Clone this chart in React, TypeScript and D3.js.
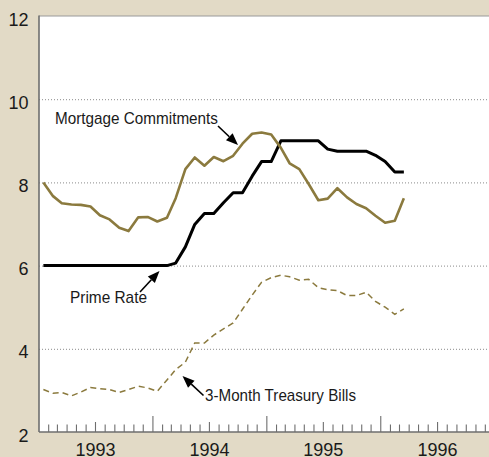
import { useEffect, useRef } from 'react';
import * as d3 from 'd3';

// monthly values, Jan 1993 .. Mar 1996
const startYear = 1993;
const years = ['1993', '1994', '1995', '1996'];
const yTicks = [2, 4, 6, 8, 10, 12];
const gridTicks = [4, 6, 8, 10];

const mortgage = [
  8.0, 7.67, 7.5, 7.47, 7.46, 7.42, 7.21, 7.11, 6.91, 6.83, 7.16, 7.17,
  7.06, 7.15, 7.62, 8.32, 8.6, 8.4, 8.61, 8.51, 8.64, 8.93, 9.17, 9.2,
  9.15, 8.83, 8.46, 8.32, 7.96, 7.57, 7.61, 7.86, 7.64, 7.48, 7.38, 7.2,
  7.03, 7.08, 7.62,
];
const prime = [
  6.0, 6.0, 6.0, 6.0, 6.0, 6.0, 6.0, 6.0, 6.0, 6.0, 6.0, 6.0,
  6.0, 6.0, 6.06, 6.45, 6.99, 7.25, 7.25, 7.51, 7.75, 7.75, 8.15, 8.5,
  8.5, 9.0, 9.0, 9.0, 9.0, 9.0, 8.8, 8.75, 8.75, 8.75, 8.75, 8.65,
  8.5, 8.25, 8.25,
];
const tbill = [
  3.02, 2.93, 2.95, 2.87, 2.96, 3.07, 3.04, 3.02, 2.95, 3.02, 3.1, 3.06,
  2.98, 3.25, 3.5, 3.68, 4.14, 4.14, 4.33, 4.48, 4.62, 4.95, 5.29, 5.6,
  5.71, 5.77, 5.73, 5.65, 5.67, 5.47, 5.42, 5.4, 5.28, 5.28, 5.36, 5.14,
  5.0, 4.83, 4.96,
];

const labels = [
  { text: 'Mortgage Commitments', x: 55, y: 124, len: 163, tail: [218, 126], tip: [238, 145] },
  { text: 'Prime Rate', x: 70, y: 302.5, len: 77, tail: [140, 292], tip: [159.5, 271] },
  { text: '3-Month Treasury Bills', x: 205, y: 400.7, len: 151, tail: [203.5, 395.5], tip: [182.5, 376] },
];

const W = 489;
const H = 457;
const BG = '#e2dac6';
const GOLD = '#8b7a3e';
const FONT = '"Liberation Sans", Arial, Helvetica, sans-serif';

export default function App() {
  const svgRef = useRef<SVGSVGElement | null>(null);

  useEffect(() => {
    if (!svgRef.current) return;
    const svg = d3.select(svgRef.current);
    svg.selectAll('*').remove();

    const left = 39;
    const top = 16;
    const bottom = 432;

    const x = d3
      .scaleTime()
      .domain([new Date(startYear, 0, 1), new Date(startYear + 4, 0, 1)])
      .range([left, left + 4 * 114]);
    const y = d3.scaleLinear().domain([2, 12]).range([bottom, top]);

    svg.append('rect').attr('width', W).attr('height', H).attr('fill', BG);
    svg
      .append('rect')
      .attr('x', left)
      .attr('y', top)
      .attr('width', W - left)
      .attr('height', bottom - top)
      .attr('fill', '#fff');

    // dotted grid
    svg
      .append('g')
      .selectAll('line')
      .data(gridTicks)
      .join('line')
      .attr('x1', left)
      .attr('x2', W)
      .attr('y1', (d) => y(d) + 0.5)
      .attr('y2', (d) => y(d) + 0.5)
      .attr('stroke', '#8a8a8a')
      .attr('stroke-width', 1)
      .attr('stroke-dasharray', '1,2');

    // frame
    svg
      .append('line')
      .attr('x1', left)
      .attr('x2', W)
      .attr('y1', top)
      .attr('y2', top)
      .attr('stroke', '#9a9a9a')
      .attr('stroke-width', 1.2);
    svg
      .append('line')
      .attr('x1', left)
      .attr('x2', left)
      .attr('y1', top - 0.6)
      .attr('y2', bottom)
      .attr('stroke', '#6e6e6e')
      .attr('stroke-width', 1.6);
    svg
      .append('line')
      .attr('x1', left)
      .attr('x2', W)
      .attr('y1', bottom)
      .attr('y2', bottom)
      .attr('stroke', '#6e6e6e')
      .attr('stroke-width', 1.6);

    // month ticks, taller at mid-year and year
    const months = d3.timeMonth.range(new Date(startYear, 1, 1), new Date(startYear + 4, 0, 1));
    svg
      .append('g')
      .selectAll('line')
      .data(months)
      .join('line')
      .attr('x1', (d) => x(d))
      .attr('x2', (d) => x(d))
      .attr('y1', bottom)
      .attr('y2', (d) => bottom - (d.getMonth() === 0 ? 16 : d.getMonth() === 6 ? 10 : 7.5))
      .attr('stroke', '#6e6e6e')
      .attr('stroke-width', 1.1);

    svg
      .append('g')
      .selectAll('text')
      .data(years)
      .join('text')
      .attr('x', (d) => x(new Date(+d, 6, 1)))
      .attr('y', 456)
      .attr('text-anchor', 'middle')
      .attr('font-family', FONT)
      .attr('font-size', 18)
      .attr('fill', '#1a1a1a')
      .text((d) => d);

    svg
      .append('g')
      .selectAll('text')
      .data(yTicks)
      .join('text')
      .attr('x', 28.5)
      .attr('y', (d) => y(d) + 9.5)
      .attr('text-anchor', 'end')
      .attr('font-family', FONT)
      .attr('font-size', 18)
      .attr('fill', '#1a1a1a')
      .text((d) => String(d));

    const mid = (i: number) => x(new Date(startYear, i, 15));
    const line = d3
      .line<number>()
      .x((_, i) => mid(i))
      .y((d) => y(d));

    svg
      .append('path')
      .datum(tbill)
      .attr('fill', 'none')
      .attr('stroke', GOLD)
      .attr('stroke-width', 1.5)
      .attr('stroke-dasharray', '6,4')
      .attr('d', line);
    svg
      .append('path')
      .datum(prime)
      .attr('fill', 'none')
      .attr('stroke', '#000')
      .attr('stroke-width', 3)
      .attr('stroke-linejoin', 'round')
      .attr('d', line);
    svg
      .append('path')
      .datum(mortgage)
      .attr('fill', 'none')
      .attr('stroke', GOLD)
      .attr('stroke-width', 2.6)
      .attr('stroke-linejoin', 'round')
      .attr('d', line);

    // annotations with arrows
    const ann = svg.append('g');
    labels.forEach((l) => {
      const [tx, ty] = l.tail;
      const [px, py] = l.tip;
      const dx = px - tx;
      const dy = py - ty;
      const n = Math.hypot(dx, dy);
      const ux = dx / n;
      const uy = dy / n;
      const hl = 12;
      const hw = 4.8;
      const bx = px - ux * hl;
      const by = py - uy * hl;
      ann
        .append('line')
        .attr('x1', tx)
        .attr('y1', ty)
        .attr('x2', bx)
        .attr('y2', by)
        .attr('stroke', '#000')
        .attr('stroke-width', 1.6);
      ann
        .append('polygon')
        .attr(
          'points',
          `${px},${py} ${bx - uy * hw},${by + ux * hw} ${bx + uy * hw},${by - ux * hw}`
        )
        .attr('fill', '#000');
      ann
        .append('text')
        .attr('x', l.x)
        .attr('y', l.y)
        .attr('font-family', FONT)
        .attr('font-size', 17)
        .attr('textLength', l.len)
        .attr('lengthAdjust', 'spacingAndGlyphs')
        .attr('fill', '#1a1a1a')
        .text(l.text);
    });
  }, []);

  return (
    <svg
      ref={svgRef}
      width={W}
      height={H}
      style={{ position: 'absolute', left: 0, top: 0, display: 'block' }}
      role="img"
      aria-label="Interest rates"
    />
  );
}
